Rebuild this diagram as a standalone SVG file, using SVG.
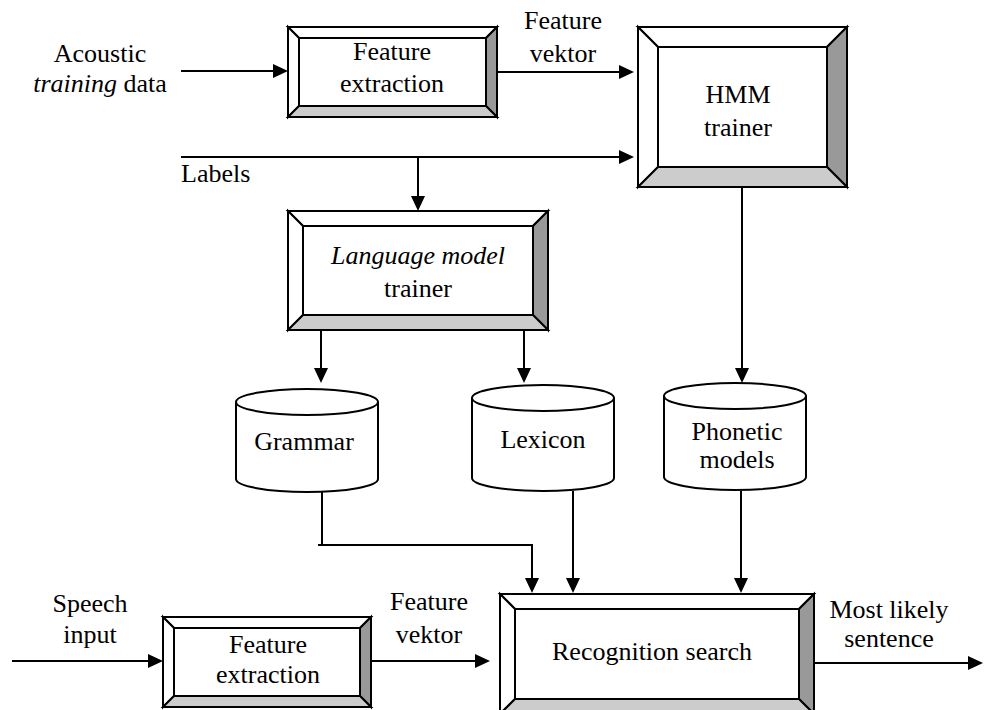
<svg xmlns="http://www.w3.org/2000/svg" width="984" height="710" viewBox="0 0 984 710">
<style>
text{font-family:"Liberation Serif",Tinos,"Times New Roman",Times,"Noto Serif","DejaVu Serif",FreeSerif,Georgia,serif;font-size:26px;fill:#000}
.m{text-anchor:middle}
.i{font-style:italic}
.w{fill:#fff;stroke:#000;stroke-width:2;stroke-linejoin:miter}
.d{fill:#999;stroke:#000;stroke-width:2}
.l{fill:#ccc;stroke:#000;stroke-width:2}
.c{fill:none;stroke:#000;stroke-width:2}
.a{fill:none;stroke:#000;stroke-width:2;marker-end:url(#ah)}
</style>
<defs>
<marker id="ah" markerUnits="userSpaceOnUse" markerWidth="15" markerHeight="14" refX="12" refY="7" orient="auto">
<path d="M0,0 L15,7 L0,14 z" fill="#000"/>
</marker>
</defs>
<rect width="984" height="710" fill="#fff"/>

<g id="connectors">
<path class="a" d="M181,71 H285"/>
<path class="a" d="M497,72 H631"/>
<path class="a" d="M181,157 H631"/>
<path class="a" d="M418,157 V208"/>
<path class="a" d="M321,330 V380"/>
<path class="a" d="M524,330 V380"/>
<path class="a" d="M742,187 V380"/>
<path class="c" d="M322,492 V545"/>
<path class="a" d="M318,545 H532 V590"/>
<path class="a" d="M573,491 V590"/>
<path class="a" d="M741,491 V590"/>
<path class="a" d="M12,661 H160"/>
<path class="a" d="M371,661 H487"/>
<path class="a" d="M814,663 H980"/>
</g>

<g id="in-acoustic">
<text class="m" x="100" y="62">Acoustic</text>
<text class="m" x="100" y="92"><tspan class="i">training</tspan> data</text>
</g>

<g id="fe-train">
<polygon class="w" points="288,27 497,27 486,38 299,38"/>
<polygon class="w" points="288,27 299,38 299,106 288,117"/>
<polygon class="d" points="497,27 497,117 486,106 486,38"/>
<polygon class="l" points="288,117 497,117 486,106 299,106"/>
<rect class="w" x="299" y="38" width="187" height="68"/>
<text class="m" x="392" y="60">Feature</text>
<text class="m" x="392" y="92">extraction</text>
</g>

<g id="lbl-fv-top">
<text class="m" x="563" y="29">Feature</text>
<text class="m" x="563" y="62">vektor</text>
</g>

<g id="hmm">
<polygon class="w" points="638,27 847,27 827,47 658,47"/>
<polygon class="w" points="638,27 658,47 658,167 638,187"/>
<polygon class="d" points="847,27 847,187 827,167 827,47"/>
<polygon class="l" points="638,187 847,187 827,167 658,167"/>
<rect class="w" x="658" y="47" width="169" height="120"/>
<text class="m" x="738" y="103">HMM</text>
<text class="m" x="738" y="136">trainer</text>
</g>

<g id="lbl-labels">
<text x="181" y="182">Labels</text>
</g>

<g id="lm">
<polygon class="w" points="288,211 548,211 533,226 303,226"/>
<polygon class="w" points="288,211 303,226 303,315 288,330"/>
<polygon class="d" points="548,211 548,330 533,315 533,226"/>
<polygon class="l" points="288,330 548,330 533,315 303,315"/>
<rect class="w" x="303" y="226" width="230" height="89"/>
<text class="m i" x="418" y="264">Language model</text>
<text class="m" x="418" y="297">trainer</text>
</g>

<g id="grammar">
<path class="w" d="M236,402 V479 A71,13 0 0 0 378,479 V402"/>
<ellipse class="w" cx="307" cy="402" rx="71" ry="13"/>
<text class="m" x="304" y="450">Grammar</text>
</g>

<g id="lexicon">
<path class="w" d="M472,398 V478 A71,13 0 0 0 614,478 V398"/>
<ellipse class="w" cx="543" cy="398" rx="71" ry="13"/>
<text class="m" x="543" y="448">Lexicon</text>
</g>

<g id="phonetic">
<path class="w" d="M664,396 V477 A71,13 0 0 0 806,477 V396"/>
<ellipse class="w" cx="735" cy="396" rx="71" ry="13"/>
<text class="m" x="737" y="440">Phonetic</text>
<text class="m" x="737" y="468">models</text>
</g>

<g id="in-speech">
<text class="m" x="90" y="612">Speech</text>
<text class="m" x="90" y="643">input</text>
</g>

<g id="fe-rec">
<polygon class="w" points="163,617 371,617 360,628 174,628"/>
<polygon class="w" points="163,617 174,628 174,696 163,707"/>
<polygon class="d" points="371,617 371,707 360,696 360,628"/>
<polygon class="l" points="163,707 371,707 360,696 174,696"/>
<rect class="w" x="174" y="628" width="186" height="68"/>
<text class="m" x="268" y="653">Feature</text>
<text class="m" x="268" y="683">extraction</text>
</g>

<g id="lbl-fv-bottom">
<text class="m" x="429" y="610">Feature</text>
<text class="m" x="429" y="643">vektor</text>
</g>

<g id="search">
<polygon class="w" points="500,594 814,594 799,609 515,609"/>
<polygon class="w" points="500,594 515,609 515,699 500,714"/>
<polygon class="d" points="814,594 814,714 799,699 799,609"/>
<polygon class="l" points="500,714 814,714 799,699 515,699"/>
<rect class="w" x="515" y="609" width="284" height="90"/>
<text class="m" x="652" y="660">Recognition search</text>
</g>

<g id="out">
<text class="m" x="889" y="618">Most likely</text>
<text class="m" x="889" y="647">sentence</text>
</g>
</svg>
